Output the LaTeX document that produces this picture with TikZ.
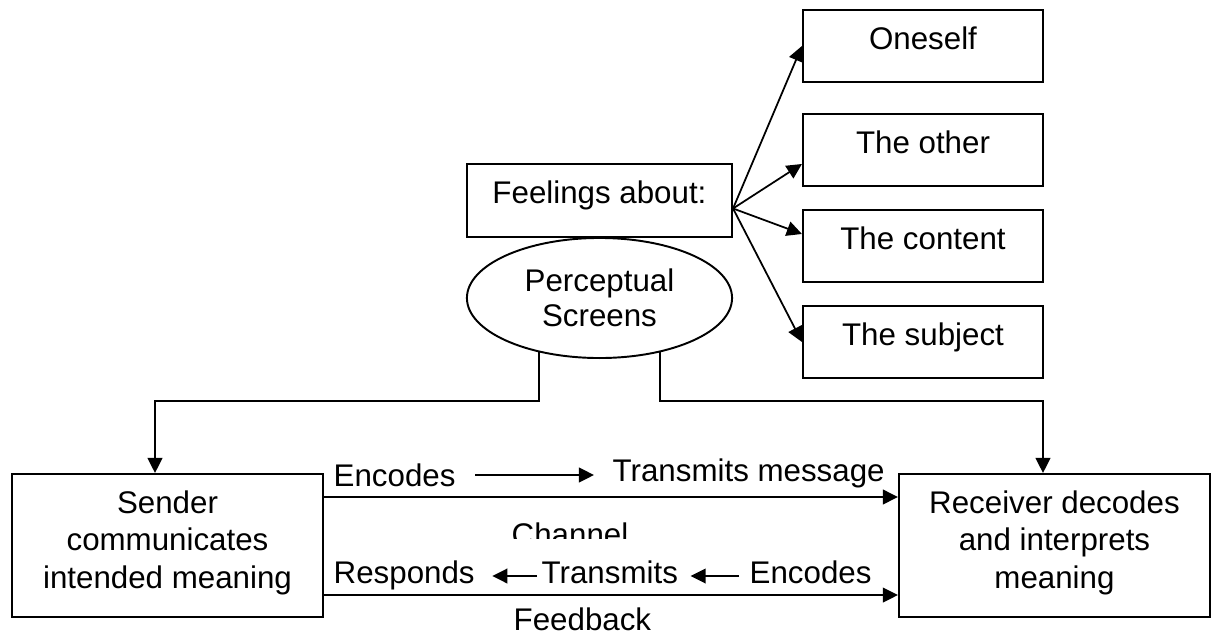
\documentclass[tikz,border=0pt]{standalone}
\usepackage{fontspec}
\setmainfont{Liberation Sans}
\usetikzlibrary{arrows.meta,calc,shapes.geometric}
\newcommand{\threelines}[3]{\begin{tabular}[b]{@{}c@{}}#1\\#2\\#3\end{tabular}}
\begin{document}
\begin{tikzpicture}[x=0.01cm,y=-0.01cm,
  every node/.style={font=\fontsize{8.9}{10.6}\selectfont},
  box/.style={draw,line width=0.55pt,rectangle,inner sep=0pt},
  rbox/.style={box,minimum width=68.29pt,text height=11.38pt,text depth=9.1pt},
  fbox/.style={box,minimum width=75.4pt,text height=11.38pt,text depth=9.39pt},
  bigbox/.style={box,minimum width=88.49pt,text height=32.44pt,text depth=8.25pt,
    font=\fontsize{8.9}{10.67}\selectfont},
  pscreen/.style={draw,line width=0.55pt,ellipse,minimum width=75.4pt,minimum height=34.14pt,
    inner sep=0pt,align=center,font=\fontsize{8.9}{10.1}\selectfont},
  lbl/.style={inner sep=0pt,anchor=base west},
  arr/.style={line width=0.5pt,-{Triangle[length=4.3pt,width=4.2pt]}}]
\useasboundingbox (0,0) rectangle (1211,633);

% right-hand boxes
\node[rbox,anchor=north] (oneself) at (923,9) {Oneself};
\node[rbox,anchor=north] (other) at (923,113) {The other};
\node[rbox,anchor=north] (content) at (923,209) {The content};
\node[rbox,anchor=north] (subject) at (923,305) {The subject};

% feelings and perceptual screens
\node[fbox,anchor=north] (feel) at (599.5,163) {Feelings about:};
\node[pscreen] (ps) at (599.5,298) {Perceptual\\Screens};

% sender / receiver
\node[bigbox,anchor=north] (sender) at (167.5,473) {\threelines{Sender}{communicates}{intended meaning}};
\node[bigbox,anchor=north] (receiver) at (1054.5,473) {\threelines{Receiver decodes}{and interprets}{meaning}};

% feelings arrows
\coordinate (fo) at ($(feel.east)+(0,8)$);
\draw[arr] (fo) -- (oneself.west);
\draw[arr] (fo) -- ($(other.west)+(0,14)$);
\draw[arr] (fo) -- ($(content.west)+(0,-12)$);
\draw[arr] (fo) -- (subject.west);

% perceptual screens to sender / receiver
\draw[arr] (ps.222) |- ($(sender.north)+(-12.5,-72)$) -- ($(sender.north)+(-12.5,0)$);
\draw[arr] (ps.318) |- ($(receiver.north)+(-11.5,-72)$) -- ($(receiver.north)+(-11.5,0)$);

% channel and feedback
\draw[arr] ($(sender.north east)+(0,24)$) -- ($(receiver.north west)+(0,24)$);
\draw[arr] ($(sender.south east)+(0,-23)$) -- ($(receiver.south west)+(0,-23)$);

% labels
\node[lbl] (enc1) at (333,486) {Encodes};
\node[lbl] (tmsg) at (612,481) {Transmits message};
\begin{scope}
\clip (0,0) rectangle (1211,538);
\node[lbl] (chan) at (511,545) {Channel};
\end{scope}
\node[lbl] (resp) at (333,583) {Responds};
\node[lbl] (trans) at (541,583) {Transmits};
\node[lbl] (enc2) at (749,583) {Encodes};
\node[lbl] (feed) at (513,630) {Feedback};

\draw[arr] ($(enc1.base east)+(19,-11)$) -- ($(tmsg.base west)+(-18,-6)$);
\draw[arr] ($(trans.base west)+(-4,-7)$) -- ($(resp.base east)+(17,-7)$);
\draw[arr] ($(enc2.base west)+(-10,-7)$) -- ($(trans.base east)+(12,-7)$);
\end{tikzpicture}
\end{document}
